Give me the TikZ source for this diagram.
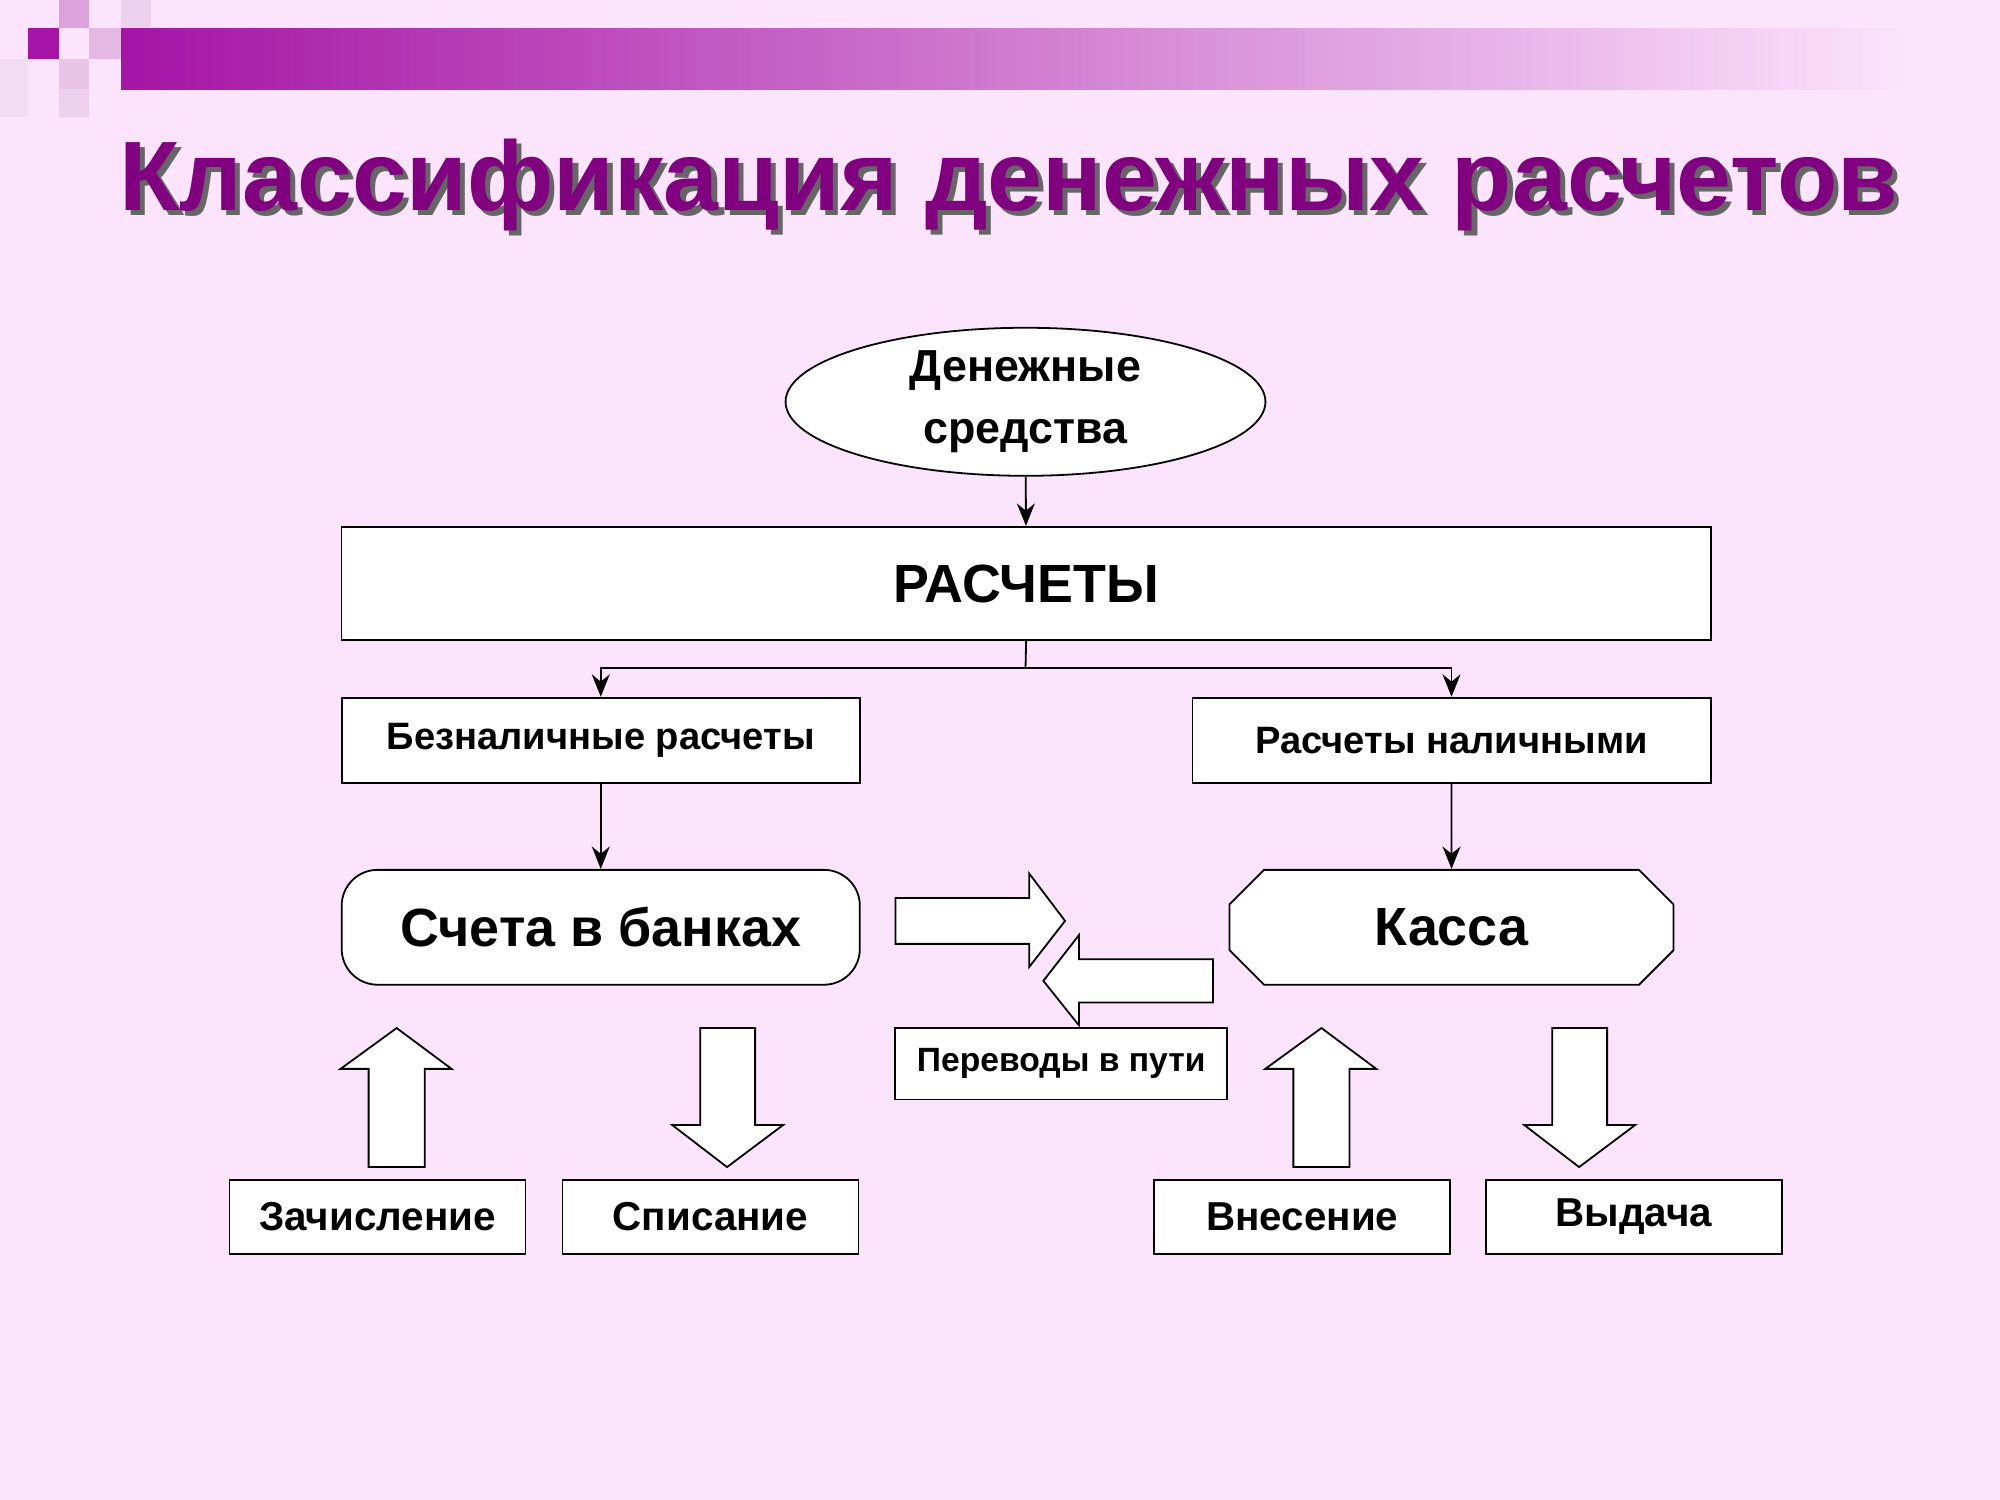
\documentclass[tikz,border=0pt]{standalone}
\usepackage{fontspec}
\setmainfont{Liberation Sans}
\usetikzlibrary{shapes.geometric,shapes.misc,arrows.meta}
\definecolor{bgpink}{RGB}{252,228,252}
\definecolor{titlepurple}{RGB}{128,0,128}
\definecolor{barpurple}{RGB}{165,20,165}
\tikzset{
  box/.style={draw,fill=white,inner sep=0pt,font=\bfseries},
  link/.style={-{Stealth[length=5pt,width=4pt]}},
  blockarrow/.style={draw,fill=white,line join=miter}
}
\begin{document}
\begin{tikzpicture}[x=0.01cm,y=-0.01cm]
    % Background
    \fill[bgpink] (0,0) rectangle (1568,1176);
    \useasboundingbox (0,0) rectangle (1568,1176);

    % Top bar and squares
    \shade[left color=barpurple,right color=bgpink] (95,22) rectangle (1500,70);
    \fill[barpurple] (22,22) rectangle (46,46);
    \fill[barpurple!40] (46,0) rectangle (70,22);
    \fill[barpurple!30] (70,22) rectangle (95,46);
    \fill[barpurple!20] (95,0) rectangle (118,22);
    \fill[barpurple!25] (46,46) rectangle (70,70);
    \fill[barpurple!15] (0,46) rectangle (22,92);
    \fill[barpurple!20] (46,70) rectangle (70,92);

    % Title
    \node[text=black!60,font=\fontsize{22}{26}\selectfont\bfseries] at (795,149) {Классификация денежных расчетов};
    \node[text=titlepurple,font=\fontsize{22}{26}\selectfont\bfseries] (title) at (791,145) {Классификация денежных расчетов};

    % Nodes
    \node[ellipse,box,minimum width=3.76cm,minimum height=1.16cm,align=center,font=\fontsize{10}{14}\selectfont\bfseries] (funds) at (804,315) {Денежные\\средства};
    \node[box,minimum width=10.73cm,minimum height=0.89cm,font=\fontsize{12}{14}\selectfont\bfseries] (settle) at (804.5,457.5) {РАСЧЕТЫ};
    \node[box,minimum width=4.06cm,minimum height=0.67cm,font=\fontsize{8.5}{10}\selectfont\bfseries] (noncash) at (471,580.5) {Безналичные расчеты};
    \node[box,minimum width=4.06cm,minimum height=0.67cm,font=\fontsize{8.5}{10}\selectfont\bfseries] (cash) at (1138,580.5) {Расчеты наличными};
    \node[box,rounded corners=8pt,minimum width=4.06cm,minimum height=0.9cm,font=\fontsize{12}{14}\selectfont\bfseries] (bank) at (471,727) {Счета в банках};
    \node[box,chamfered rectangle,chamfered rectangle xsep=0.25cm,minimum width=3.48cm,minimum height=0.9cm,font=\fontsize{12}{14}\selectfont\bfseries] (till) at (1138,727) {Касса};
    \node[box,minimum width=2.6cm,minimum height=0.56cm,font=\fontsize{7.5}{9}\selectfont\bfseries] (transit) at (832,834) {Переводы в пути};
    \node[box,minimum width=2.32cm,minimum height=0.58cm,font=\fontsize{9}{11}\selectfont\bfseries] (credit) at (296,954) {Зачисление};
    \node[box,minimum width=2.32cm,minimum height=0.58cm,font=\fontsize{9}{11}\selectfont\bfseries] (debit) at (557,954) {Списание};
    \node[box,minimum width=2.32cm,minimum height=0.58cm,font=\fontsize{9}{11}\selectfont\bfseries] (deposit) at (1021,954) {Внесение};
    \node[box,minimum width=2.32cm,minimum height=0.58cm,font=\fontsize{9}{11}\selectfont\bfseries] (payout) at (1281,954) {Выдача};

    % Connectors
    \draw[link] (funds) -- (settle);
    \coordinate (split) at (804,524);
    \draw (settle.south) -- (split);
    \draw[link] (split) -| (noncash.north);
    \draw[link] (split) -| (cash.north);
    \draw[link] (noncash) -- (bank);
    \draw[link] (cash) -- (till);

    % Block arrows
    \draw[blockarrow] (702,704) -- (807,704) -- (807,685) -- (835,722) -- (807,758) -- (807,740) -- (702,740) -- cycle;
    \draw[blockarrow] (951,752) -- (846,752) -- (846,733) -- (818,769) -- (846,804) -- (846,786) -- (951,786) -- cycle;
    \draw[blockarrow] (289,915) -- (289,838) -- (267,838) -- (311,806) -- (354,838) -- (333,838) -- (333,915) -- cycle;
    \draw[blockarrow] (549,806) -- (549,882) -- (527,882) -- (570,915) -- (614,882) -- (592,882) -- (592,806) -- cycle;
    \draw[blockarrow] (1014,915) -- (1014,838) -- (992,838) -- (1036,806) -- (1079,838) -- (1058,838) -- (1058,915) -- cycle;
    \draw[blockarrow] (1217,806) -- (1217,882) -- (1195,882) -- (1238,915) -- (1282,882) -- (1260,882) -- (1260,806) -- cycle;
\end{tikzpicture}
\end{document}
